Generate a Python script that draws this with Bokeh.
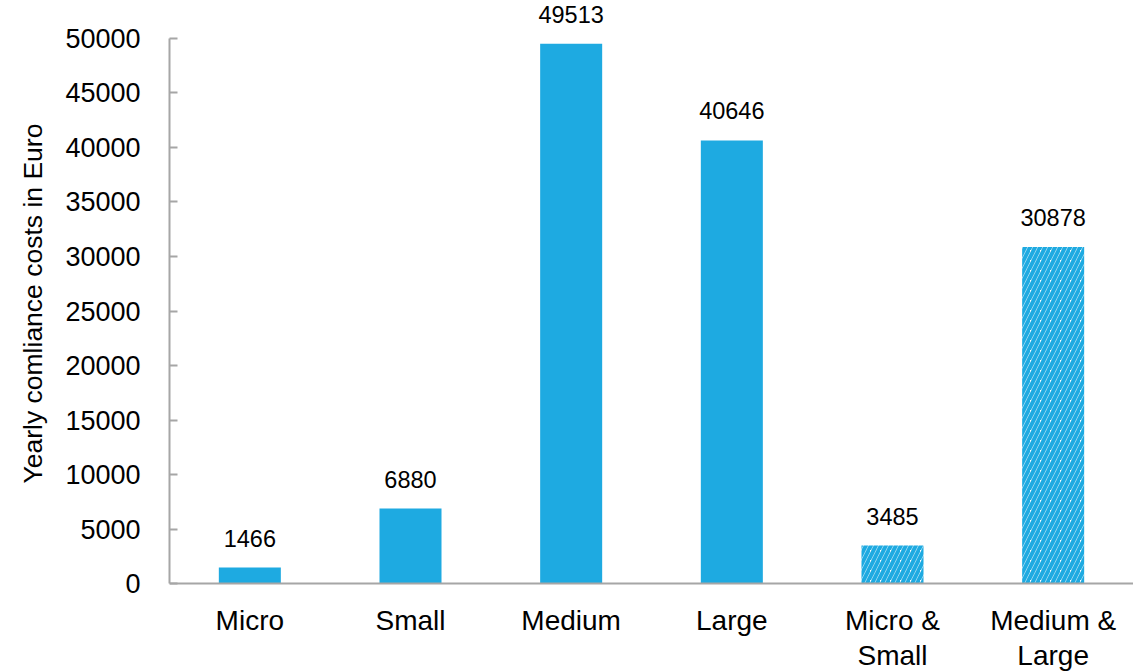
from bokeh.plotting import figure
from bokeh.models import (ColumnDataSource, FactorRange, Range1d, LabelSet, FixedTicker,
                          NumeralTickFormatter, Span, Title)
from bokeh.core.properties import value
from bokeh.embed import file_html
from bokeh.resources import INLINE

categories = ["Micro", "Small", "Medium", "Large", "Micro &\nSmall", "Medium &\nLarge"]
costs = [1466, 6880, 49513, 40646, 3485, 30878]
aggregated = [False, False, False, False, True, True]
y_ticks = [0, 5000, 10000, 15000, 20000, 25000, 30000, 35000, 40000, 45000, 50000]
y_title = "Yearly comliance costs in Euro"

BLUE = "#1eaae1"
FONT = "Liberation Sans"
AXIS_GRAY = "#a6a6a6"

p = figure(x_range=FactorRange(factors=categories), y_range=Range1d(-8073, 53486),
           width=1133, height=671, output_backend="svg", toolbar_location=None,
           min_border_left=169, min_border_right=0, min_border_top=0, min_border_bottom=0)
p.outline_line_color = None
p.xgrid.visible = False
p.ygrid.visible = False
p.xaxis.visible = False

solid = ColumnDataSource(dict(
    x=[c for c, a in zip(categories, aggregated) if not a],
    top=[v for v, a in zip(costs, aggregated) if not a]))
hatched = ColumnDataSource(dict(
    x=[c for c, a in zip(categories, aggregated) if a],
    top=[v for v, a in zip(costs, aggregated) if a]))

p.vbar(x="x", top="top", width=0.386, source=solid, fill_color=BLUE, line_color=None)
p.vbar(x="x", top="top", width=0.386, source=hatched, fill_color="white", line_color=None,
       hatch_pattern="right_diagonal_line", hatch_color=BLUE, hatch_scale=10, hatch_weight=4)

# baseline (x axis line) at zero
p.add_layout(Span(location=0, dimension="width", line_color=AXIS_GRAY, line_width=2))

labels_src = ColumnDataSource(dict(x=categories, y=costs, t=[str(v) for v in costs]))
p.add_layout(LabelSet(x="x", y="y", text="t", source=labels_src, text_align="center",
                      text_baseline="alphabetic", y_offset=21, text_font=value(FONT),
                      text_font_size="23.5px", text_color="#000000"))

lines = [c.split("\n") for c in categories]
cat_src = ColumnDataSource(dict(x=categories, y=[0] * len(categories),
                                l1=[l[0] for l in lines],
                                l2=[l[1] if len(l) > 1 else "" for l in lines]))
for field, off in (("l1", -37), ("l2", -72)):
    p.add_layout(LabelSet(x="x", y="y", text=field, source=cat_src, text_align="center",
                          text_baseline="middle", y_offset=off, text_font=value(FONT),
                          text_font_size="28px", text_color="#000000"))

ax = p.yaxis[0]
ax.ticker = FixedTicker(ticks=y_ticks)
ax.formatter = NumeralTickFormatter(format="0")
ax.bounds = (0, 50000)
ax.axis_line_color = AXIS_GRAY
ax.axis_line_width = 2
ax.major_tick_line_color = AXIS_GRAY
ax.major_tick_line_width = 2
ax.major_tick_in = 8
ax.major_tick_out = 0
ax.minor_tick_line_color = None
ax.major_label_text_font = FONT
ax.major_label_text_font_size = "27px"
ax.major_label_text_color = "#000000"
ax.major_label_standoff = 29

p.add_layout(Title(text=y_title, align="left", offset=188, text_font=FONT,
                   vertical_align="top",
                   text_font_size="26.5px", text_font_style="normal",
                   text_color="#000000", standoff=26), "left")

open("out.html", "w").write(file_html(p, INLINE))
